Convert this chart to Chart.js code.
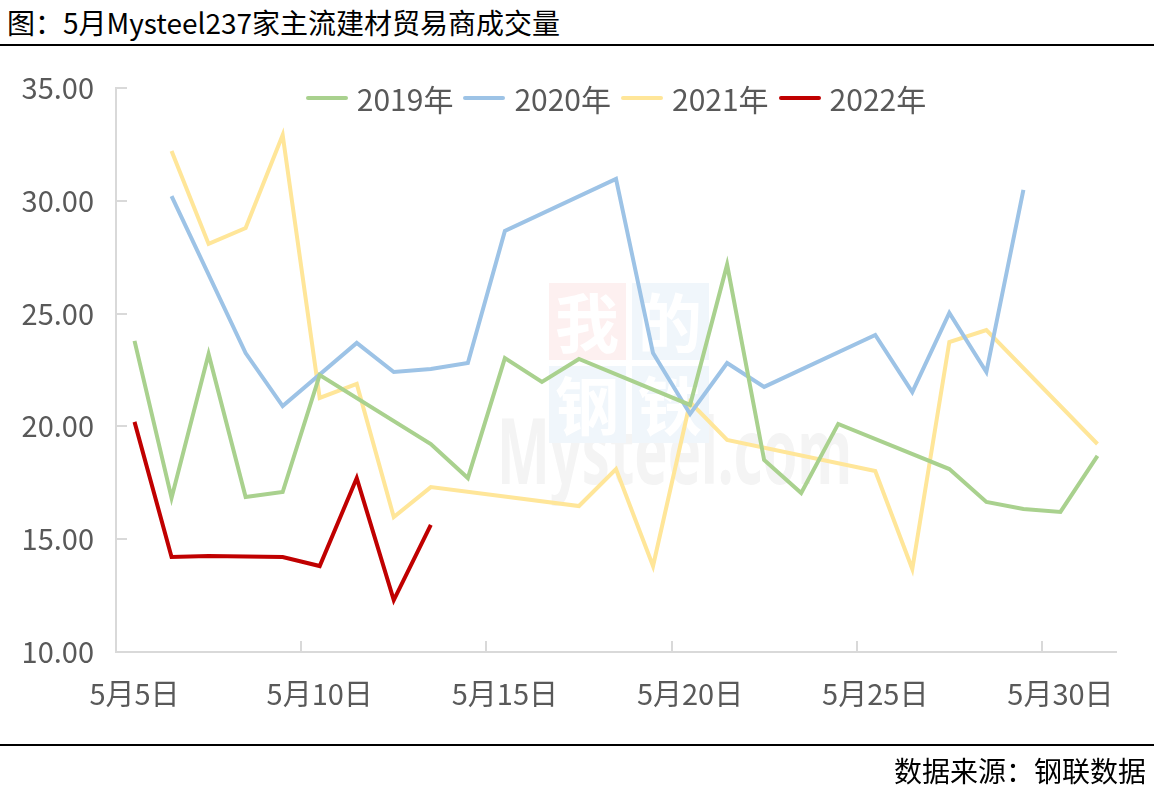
<!DOCTYPE html>
<html>
<head>
<meta charset="utf-8">
<script src="https://cdn.jsdelivr.net/npm/chart.js@4.4.0/dist/chart.umd.min.js"></script>
<style>
  body { margin:0; width:1154px; height:792px; background:#fff; position:relative; overflow:hidden; font-family:"Noto Sans CJK SC", sans-serif; }
  #title { position:absolute; left:7px; top:2px; font-size:28px; line-height:40px; color:#000; white-space:nowrap; }
  .rule { position:absolute; left:0; width:1154px; height:2px; background:#000; }
  #source { position:absolute; right:8px; top:751px; font-size:28px; line-height:38px; color:#000; }
  #wrap { position:absolute; left:0; top:0; width:1154px; height:792px; }
  #legend { position:absolute; left:116px; width:1000px; top:79px; display:flex; justify-content:center; font-size:30px; line-height:38px; color:#595959; }
  #legend .item { display:flex; align-items:center; margin:0 5px; }
  #legend .swatch { width:42px; height:4px; border-radius:2px; margin-right:9px; }
</style>
</head>
<body>
<div id="title">图：5月Mysteel237家主流建材贸易商成交量</div>
<div class="rule" style="top:44px"></div>
<div id="wrap"><canvas id="chart"></canvas></div>
<div id="legend"></div>
<div class="rule" style="top:744px"></div>
<div id="source">数据来源：钢联数据</div>

<script>
// days of May shown on the axis (5 to 31)
const days = [5,6,7,8,9,10,11,12,13,14,15,16,17,18,19,20,21,22,23,24,25,26,27,28,29,30,31];
const dayLabels = days.map(d => "5月" + d + "日");

const seriesNames = ["2019年", "2020年", "2021年", "2022年"];
const seriesColors = ["#a9d18e", "#9dc3e6", "#ffe699", "#c00000"];

// null = no trading data that day (weekend), line spans over it
const v2019 = [23.79, 16.83, 23.21, 16.87, 17.09, 22.28, null, null, 19.22, 17.71,
               23.03, 21.97, 22.99, null, null, 20.95, 27.17, 18.51, 17.05, 20.11,
               null, null, 18.11, 16.65, 16.34, 16.21, 18.69];
const v2020 = [null, 30.21, null, 23.25, 20.90, null, 23.70, 22.41, 22.54, 22.81,
               28.66, null, null, 30.97, 23.25, 20.55, 22.81, 21.75, null, null,
               24.05, 21.52, 25.03, 22.41, 30.48, null, null];
const v2021 = [null, 32.21, 28.09, 28.79, 32.92, 21.26, 21.88, 15.98, 17.31, null,
               null, null, 16.47, 18.11, 13.81, 21.08, 19.40, null, null, null,
               18.02, 13.68, 23.74, 24.27, null, null, 19.22];
const v2022 = [20.20, 14.21, 14.26, 14.23, 14.21, 13.81, 17.71, 12.30, 15.63, null,
               null, null, null, null, null, null, null, null, null, null,
               null, null, null, null, null, null, null];

const yTicks = [10, 15, 20, 25, 30, 35];

const FONT = "'Noto Sans CJK SC', sans-serif";
const AXIS = "#d9d9d9";

// faint site watermark behind the lines
const watermark = {
    id: "watermark",
    beforeDatasetsDraw(chart) {
        const ctx = chart.ctx;
        ctx.save();
        ctx.fillStyle = "#f4f4f4";
        ctx.font = "bold 92px 'Noto Sans', sans-serif";
        ctx.textBaseline = "alphabetic";
        ctx.fillText("Mysteel.com", 497, 484, 355);
        const boxes = [
            [549, 283, "#fdf0f0", "我"],
            [632, 283, "#f0f6fb", "的"],
            [549, 366, "#f0f6fb", "钢"],
            [632, 366, "#f0f6fb", "铁"]
        ];
        ctx.font = "bold 64px " + FONT;
        ctx.textAlign = "center";
        ctx.textBaseline = "middle";
        boxes.forEach(b => {
            ctx.fillStyle = b[2];
            ctx.fillRect(b[0], b[1], 77, 77);
            ctx.fillStyle = "#ffffff";
            ctx.fillText(b[3], b[0] + 38, b[1] + 40);
        });
        ctx.restore();
    }
};

// small inward tick marks like the excel axes
const tickMarks = {
    id: "tickMarks",
    beforeDatasetsDraw(chart) {
        const ctx = chart.ctx;
        const x = chart.scales.x, y = chart.scales.y;
        ctx.save();
        ctx.strokeStyle = AXIS;
        ctx.lineWidth = 2;
        ctx.beginPath();
        yTicks.forEach(v => {
            const py = Math.round(y.getPixelForValue(v));
            ctx.moveTo(x.left, py);
            ctx.lineTo(x.left + 11, py);
        });
        const half = (x.getPixelForValue(1) - x.getPixelForValue(0)) / 2;
        days.forEach((d, i) => {
            if (d % 5 === 0 && i > 0) {
                const px = Math.round(x.getPixelForValue(i) - half);
                ctx.moveTo(px, y.bottom);
                ctx.lineTo(px, y.bottom - 11);
            }
        });
        ctx.stroke();
        ctx.restore();
    }
};

const allValues = [v2019, v2020, v2021, v2022];

const chart = new Chart(document.getElementById("chart"), {
    type: "line",
    data: {
        labels: dayLabels,
        datasets: allValues.map((vals, i) => ({
            label: seriesNames[i],
            data: vals,
            borderColor: seriesColors[i],
            backgroundColor: seriesColors[i],
            borderWidth: 4,
            pointRadius: 0,
            tension: 0,
            spanGaps: true
        }))
    },
    options: {
        responsive: true,
        maintainAspectRatio: false,
        animation: false,
        devicePixelRatio: 1,
        layout: { padding: { top: 88, right: 38, left: 0, bottom: 0 } },
        plugins: {
            legend: { display: false },
            tooltip: { enabled: false }
        },
        scales: {
            x: {
                type: "category",
                offset: true,
                grid: { display: false },
                border: { color: AXIS, width: 2 },
                ticks: {
                    autoSkip: false,
                    maxRotation: 0,
                    padding: 17,
                    color: "#595959",
                    font: { family: FONT, size: 29 },
                    callback: (v, i) => days[i] % 5 === 0 ? dayLabels[i] : ""
                },
                afterFit: s => { s.height = 140; }
            },
            y: {
                min: 10,
                max: 35,
                grid: { display: false },
                border: { color: AXIS, width: 2 },
                ticks: {
                    stepSize: 5,
                    padding: 14,
                    color: "#595959",
                    font: { family: FONT, size: 29 },
                    callback: v => v.toFixed(2)
                },
                afterFit: s => { s.width = 116; }
            }
        }
    },
    plugins: [watermark, tickMarks]
});

// html legend built from the datasets
const legendBox = document.getElementById("legend");
chart.data.datasets.forEach(ds => {
    const item = document.createElement("div");
    item.className = "item";
    item.innerHTML = `<span class="swatch" style="background:${ds.borderColor}"></span><span>${ds.label}</span>`;
    legendBox.appendChild(item);
});
</script>
</body>
</html>
